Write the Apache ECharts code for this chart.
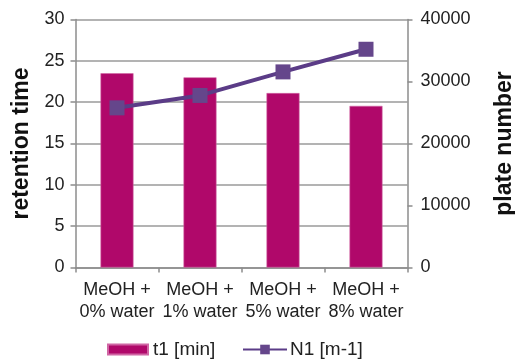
<!DOCTYPE html>
<html><head><meta charset="utf-8">
<script src="https://cdn.jsdelivr.net/npm/echarts@6/dist/echarts.min.js"></script>
<style>html,body{margin:0;padding:0;background:#fff}#c{width:515px;height:360px}</style>
</head><body><div id="c"></div>
<script>
const categories = ['MeOH +\n0% water', 'MeOH +\n1% water', 'MeOH +\n5% water', 'MeOH +\n8% water'];
const t1 = [23.5, 23.0, 21.1, 19.55];
const n1 = [25750, 27750, 31550, 35200];
const leftTicks = [0, 30, 5];
const rightTicks = [0, 40000, 10000];

const font = "'Liberation Sans', Arial, sans-serif";
const chart = echarts.init(document.getElementById('c'), null, {renderer: 'canvas'});
chart.setOption({
  animation: false,
  textStyle: {fontFamily: font},
  grid: {left: 75.5, right: 107.5, top: 19.5, bottom: 92.5, containLabel: false, outerBoundsMode: 'none'},
  legend: [
    {
      left: 107, top: 340, padding: 0,
      itemWidth: 40, itemHeight: 10, itemGap: 5,
      textStyle: {fontFamily: font, fontSize: 19, color: '#222'},
      data: [{name: 't1 [min]', icon: 'rect'}]
    },
    {
      left: 242, top: 340, padding: 0,
      itemWidth: 44, itemHeight: 12, itemGap: 3,
      textStyle: {fontFamily: font, fontSize: 19, color: '#222', padding: [0,0,0,-2]},
      data: [{name: 'N1 [m-1]'}]
    }
  ],
  xAxis: {
    type: 'category', data: categories,
    axisLine: {lineStyle: {color: '#8c8c8c', width: 1.5}},
    axisTick: {show: true, length: 5, lineStyle: {color: '#8c8c8c', width: 1.5}},
    axisLabel: {fontFamily: font, fontSize: 18, color: '#222', lineHeight: 22, margin: 12, interval: 0}
  },
  yAxis: [
    {
      type: 'value', min: leftTicks[0], max: leftTicks[1], interval: leftTicks[2],
      name: 'retention time', nameLocation: 'middle', nameGap: 39, nameRotate: 90,
      nameTextStyle: {fontFamily: font, fontSize: 23, fontWeight: 'bold', color: '#111'},
      axisLine: {show: true, lineStyle: {color: '#8c8c8c', width: 1.5}},
      axisTick: {show: true, length: 5, lineStyle: {color: '#8c8c8c', width: 1.5}},
      axisLabel: {fontFamily: font, fontSize: 18, color: '#222', margin: 11},
      splitLine: {lineStyle: {color: '#9a9a9a', width: 1.5}}
    },
    {
      type: 'value', min: rightTicks[0], max: rightTicks[1], interval: rightTicks[2],
      name: 'plate number', nameLocation: 'middle', nameGap: 86, nameRotate: 90,
      nameTextStyle: {fontFamily: font, fontSize: 23, fontWeight: 'bold', color: '#111'},
      axisLine: {show: true, lineStyle: {color: '#8c8c8c', width: 1.5}},
      axisTick: {show: true, length: 5, lineStyle: {color: '#8c8c8c', width: 1.5}},
      axisLabel: {fontFamily: font, fontSize: 18, color: '#222', margin: 13, formatter: v => String(v)},
      splitLine: {show: false}
    }
  ],
  series: [
    {
      name: 't1 [min]', type: 'bar', data: t1, yAxisIndex: 0,
      barWidth: 33,
      itemStyle: {color: '#B0086A', borderColor: '#d066a4', borderWidth: 0.6}
    },
    {
      name: 'N1 [m-1]', type: 'line', data: n1, yAxisIndex: 1,
      symbol: 'rect', symbolSize: 15,
      lineStyle: {color: '#5B3C87', width: 4},
      itemStyle: {color: '#65468B'}
    }
  ]
});
</script></body></html>
